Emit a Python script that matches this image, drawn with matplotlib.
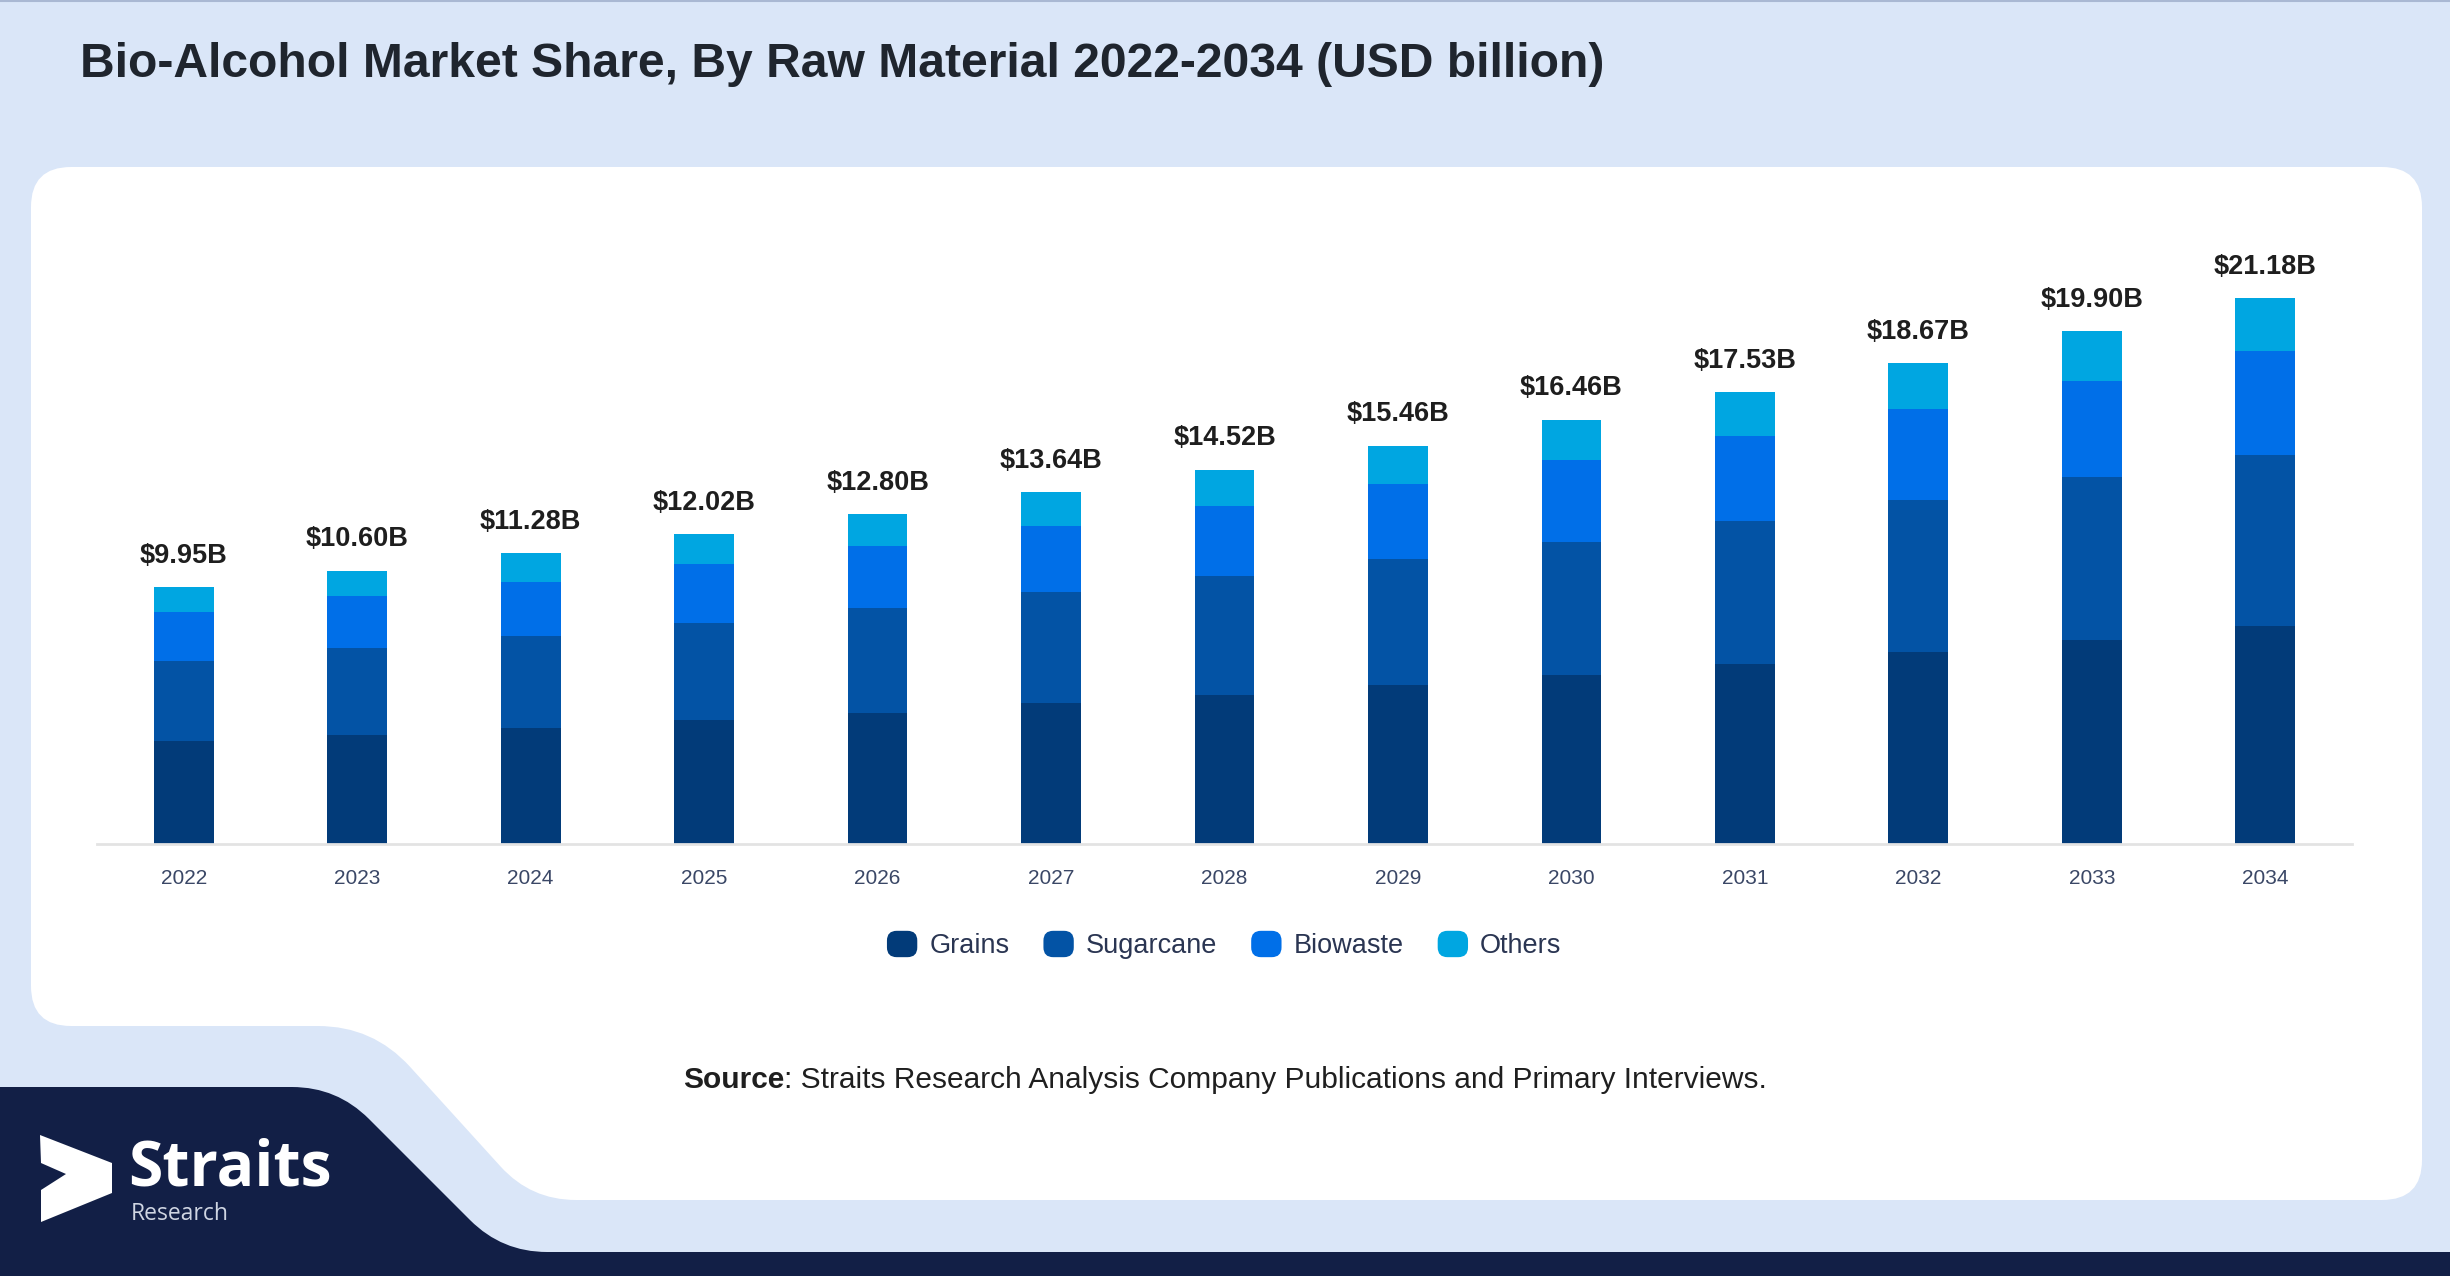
import numpy as np
import matplotlib
matplotlib.use("Agg")
import matplotlib.pyplot as plt
from matplotlib.path import Path
from matplotlib.patches import PathPatch, FancyBboxPatch, Polygon
from matplotlib.legend_handler import HandlerPatch
import matplotlib.patches as mpatches

# ---------------- data ----------------
years = ["2022", "2023", "2024", "2025", "2026", "2027", "2028",
         "2029", "2030", "2031", "2032", "2033", "2034"]
grains = [3.98, 4.24, 4.50, 4.81, 5.09, 5.45, 5.79, 6.17, 6.55, 6.99, 7.45, 7.92, 8.44]
sugarcane = [3.13, 3.34, 3.57, 3.76, 4.07, 4.32, 4.59, 4.87, 5.18, 5.54, 5.89, 6.31, 6.67]
biowaste = [1.88, 2.02, 2.11, 2.30, 2.40, 2.55, 2.74, 2.93, 3.15, 3.30, 3.55, 3.75, 4.02]
others = [0.96, 1.00, 1.10, 1.15, 1.24, 1.32, 1.40, 1.49, 1.58, 1.70, 1.78, 1.92, 2.05]
totals = [9.95, 10.60, 11.28, 12.02, 12.80, 13.64, 14.52, 15.46, 16.46, 17.53, 18.67, 19.90, 21.18]
series_names = ["Grains", "Sugarcane", "Biowaste", "Others"]
series_colors = ["#023b79", "#0353a5", "#006fe8", "#00a6e1"]

title = "Bio-Alcohol Market Share, By Raw Material 2022-2034 (USD billion)"

W, H = 2450, 1276
BG = "#dae6f8"
NAVY = "#121f46"

plt.rcParams['font.family'] = ['Liberation Sans', 'DejaVu Sans']

fig = plt.figure(figsize=(W / 100, H / 100), dpi=100)
fig.patch.set_facecolor(BG)

# background drawing axes in pixel coordinates
bg = fig.add_axes([0, 0, 1, 1])
bg.set_xlim(0, W)
bg.set_ylim(H, 0)
bg.axis("off")
bg.set_zorder(0)


def rounded_path(pts, radii):
    pts = [np.array(p, dtype=float) for p in pts]
    n = len(pts)
    verts, codes = [], []
    for i in range(n):
        p0, p1, p2 = pts[i - 1], pts[i], pts[(i + 1) % n]
        r = radii[i]
        v1 = p0 - p1
        v2 = p2 - p1
        l1 = np.linalg.norm(v1)
        l2 = np.linalg.norm(v2)
        ra = min(r, l1 / 2)
        rb = min(r, l2 / 2)
        a = p1 + v1 / l1 * ra
        b = p1 + v2 / l2 * rb
        verts.append(a)
        codes.append(Path.MOVETO if i == 0 else Path.LINETO)
        verts += [p1, b]
        codes += [Path.CURVE3, Path.CURVE3]
    verts.append(verts[0])
    codes.append(Path.CLOSEPOLY)
    return Path(verts, codes)


# top thin border
bg.plot([0, W], [1, 1], color="#a9b8d3", lw=1.5)

# white panel
white_pts = [(31, 167), (2422, 167), (2422, 1200), (531, 1200), (373, 1026), (31, 1026)]
bg.add_patch(PathPatch(rounded_path(white_pts, [40, 40, 40, 45, 55, 40]),
                       facecolor="white", edgecolor="none"))

# navy footer shape
navy_pts = [(0, 1087), (337, 1087), (502, 1252), (W, 1252), (W, H), (0, H)]
bg.add_patch(PathPatch(rounded_path(navy_pts, [0, 45, 45, 0, 0, 0]),
                       facecolor=NAVY, edgecolor="none"))

# logo arrow
arrow = [(40, 1135), (112, 1163), (112, 1193), (41, 1222), (41, 1190),
         (66, 1174), (41, 1163)]
bg.add_patch(Polygon(arrow, closed=True, facecolor="white", edgecolor="none"))
bg.text(128, 1185, "Straits", fontsize=45, fontweight="bold", color="white",
        family=["Open Sans", "DejaVu Sans"], ha="left", va="baseline")
bg.text(131, 1220, "Research", fontsize=16.5, color="#cfd5e2",
        family=["Open Sans", "DejaVu Sans"], ha="left", va="baseline")

# title
bg.text(80, 77, title, fontsize=34.6, fontweight="bold", color="#1f252e",
        ha="left", va="baseline")

# source text
t1 = bg.text(683, 1088, "Source", fontsize=21.5, fontweight="bold",
             color="#1f1f1f", ha="left", va="baseline")
bg.annotate(": Straits Research Analysis Company Publications and Primary Interviews.",
            xy=(1, 0), xycoords=t1, fontsize=21.5, color="#1f1f1f",
            ha="left", va="bottom")

# ---------------- chart ----------------
base_px = 843.75
top_px = 260
left_px, right_px = 97, 2352
ax = fig.add_axes([left_px / W, (H - base_px) / H,
                   (right_px - left_px) / W, (base_px - top_px) / H])
ax.set_zorder(2)
ax.patch.set_alpha(0)

x = np.arange(len(years))
bw = 0.345
bottom = np.zeros(len(years))
for vals, name, col in zip([grains, sugarcane, biowaste, others],
                           series_names, series_colors):
    ax.bar(x, vals, bw, bottom=bottom, color=col, label=name, linewidth=0)
    bottom += np.array(vals)

ax.set_xlim(-0.5, 12.5)
ax.set_ylim(0, (base_px - top_px) / 25.76)

for xi, tot in zip(x, totals):
    ax.annotate(f"${tot:.2f}B", xy=(xi, tot), xytext=(0, 17.5),
                textcoords="offset points", ha="center", va="baseline",
                fontsize=19.5, fontweight="bold", color="#1e1e1e",
                annotation_clip=False)

ax.set_xticks(x)
ax.set_xticklabels(years, fontsize=15, color="#3a4766")
ax.tick_params(axis="x", length=0, pad=18.5)
ax.set_yticks([])
for s in ["top", "right", "left"]:
    ax.spines[s].set_visible(False)
ax.spines["bottom"].set_color("#e3e3e3")
ax.spines["bottom"].set_linewidth(2)


class HandlerRound(HandlerPatch):
    def create_artists(self, legend, orig_handle, xdescent, ydescent,
                       width, height, fontsize, trans):
        p = FancyBboxPatch((-xdescent + 3, -ydescent + 3), width - 6, height - 6,
                           boxstyle="round,pad=3,rounding_size=7",
                           facecolor=orig_handle.get_facecolor(),
                           edgecolor="none", transform=trans)
        return [p]


handles = [mpatches.Patch(facecolor=c, label=n) for n, c in zip(series_names, series_colors)]
leg = fig.legend(handles=handles, loc="center", bbox_to_anchor=(0.4997, 1 - 945 / H),
                 ncol=4, frameon=False, fontsize=19.5,
                 handler_map={mpatches.Patch: HandlerRound()},
                 handlelength=1.12, handleheight=1.12, handletextpad=0.45,
                 columnspacing=1.25, borderpad=0)
for t in leg.get_texts():
    t.set_color("#2a3552")

fig.savefig("out.png", dpi=100, facecolor=BG)
